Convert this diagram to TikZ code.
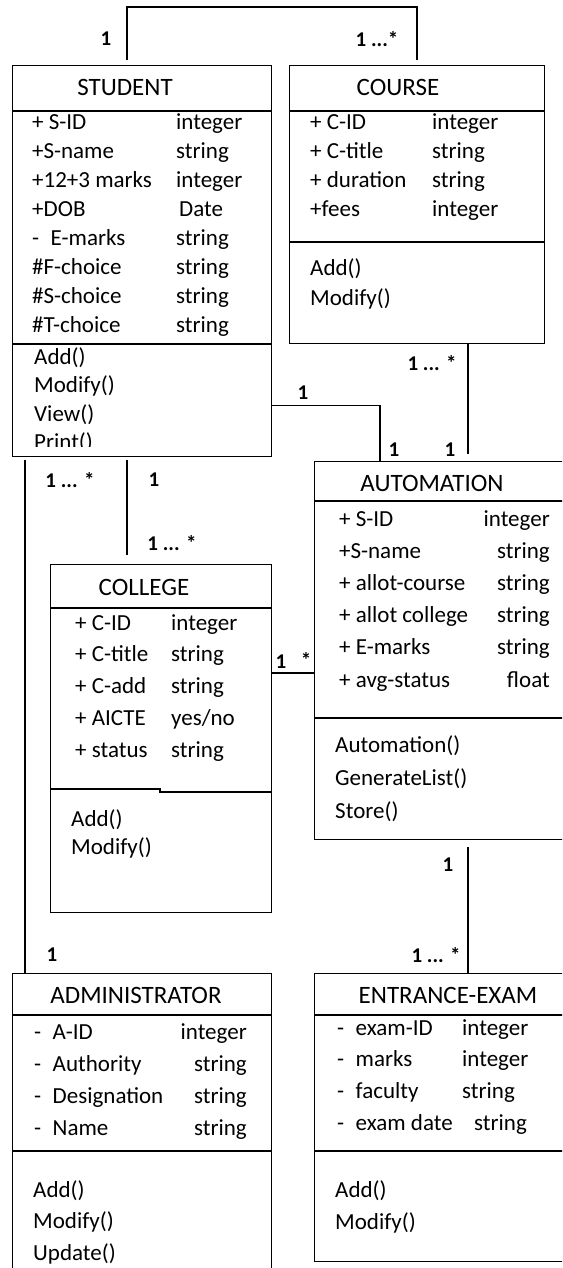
\documentclass[tikz,border=0pt]{standalone}
\usepackage{fontspec}
\setmainfont{Carlito}
\newcommand{\colL}[1]{\begin{tabular}[t]{@{}l@{}}#1\end{tabular}}
\newcommand{\colR}[1]{\begin{tabular}[t]{@{}r@{}}#1\end{tabular}}
\tikzset{
  classbox/.style = {draw, rectangle, line width=1.2pt, anchor=north west, inner sep=0pt},
  classname/.style = {anchor=base, inner sep=0pt, font=\fontsize{25}{30}\selectfont},
  member/.style = {anchor=base west, inner sep=0pt, font=\fontsize{23}{#1}\selectfont},% one compartment
  memberr/.style = {member=#1, anchor=base east},% right aligned types
  mult/.style = {inner sep=0pt, font=\bfseries\fontsize{21}{25}\selectfont},
  assoc/.style = {line width=1.2pt}
}

\begin{document}
\begin{tikzpicture}[x=1pt,y=-1pt]
  \useasboundingbox (0,0) rectangle (562,1268);
  \clip (0,0) rectangle (562,1268);

  % STUDENT
  \node [classbox, minimum width=259pt, minimum height=391pt] (student) at (12,65) {};
  \draw [assoc] (12,111) -- (271,111);
  \draw [assoc] (12,344) -- (271,344);
  \node [classname] (student-name) at (125,96) {STUDENT};
  \node [member=29] (student-attr) at (32,130)
    {\colL{+ S-ID\\+S-name\\+12+3 marks\\+DOB\\-\enskip E-marks\\\#F-choice\\\#S-choice\\\#T-choice}};
  \node [member=29] (student-type) at (176,130)
    {\colL{integer\\string\\integer\\\hspace{3pt}Date\\string\\string\\string\\string}};
  \begin{scope}
    \clip (12,344) rectangle (271,446);% last line is cut off
    \node [member=28.5] (student-op) at (34,364) {\colL{Add()\\Modify()\\View()\\Print()}};
  \end{scope}

  % COURSE
  \node [classbox, minimum width=255pt, minimum height=278pt] (course) at (289,65) {};
  \draw [assoc] (289,111) -- (544,111);
  \draw [assoc] (289,242) -- (544,242);
  \node [classname] (course-name) at (398,96) {COURSE};
  \node [member=29] (course-attr) at (310,130) {\colL{+ C-ID\\+ C-title\\+ duration\\+fees}};
  \node [member=29] (course-type) at (432,130) {\colL{integer\\string\\string\\integer}};
  \node [member=30] (course-op) at (310,275) {\colL{Add()\\Modify()}};

  % AUTOMATION
  \node [classbox, minimum width=260pt, minimum height=378pt] (autom) at (314,461) {};
  \draw [assoc] (314,501) -- (574,501);
  \draw [assoc] (314,718) -- (574,718);
  \node [classname] (autom-name) at (432,491) {AUTOMATION};
  \node [member=32.2] (autom-attr) at (339,526)
    {\colL{+ S-ID\\+S-name\\+ allot-course\\+ allot college\\+ E-marks\\+ avg-status}};
  \node [memberr=32.2] (autom-type) at (550,526) {\colR{integer\\string\\string\\string\\string\\float}};
  \node [member=33] (autom-op) at (335,752) {\colL{Automation()\\GenerateList()\\Store()}};

  % COLLEGE
  \node [classbox, minimum width=221pt, minimum height=348pt] (college) at (50,564) {};
  \draw [assoc] (50,608) -- (271,608);
  \draw [assoc] (50,789) -- (160,789) -- (160,792) -- (271,792);
  \node [classname] (college-name) at (144,595) {COLLEGE};
  \node [member=31.8] (college-attr) at (75,630) {\colL{+ C-ID\\+ C-title\\+ C-add\\+ AICTE\\+ status}};
  \node [member=31.8] (college-type) at (171,630) {\colL{integer\\string\\string\\yes/no\\string}};
  \node [member=28] (college-op) at (71,826) {\colL{Add()\\Modify()}};

  % ADMINISTRATOR
  \node [classbox, minimum width=259pt, minimum height=320pt] (admin) at (12,973) {};
  \draw [assoc] (12,1015) -- (271,1015);
  \draw [assoc] (12,1151) -- (271,1151);
  \node [classname] (admin-name) at (136,1003) {ADMINISTRATOR};
  \node [member=32] (admin-attr) at (34,1039)
    {\colL{-\enskip A-ID\\-\enskip Authority\\-\enskip Designation\\-\enskip Name}};
  \node [memberr=32] (admin-type) at (247,1039) {\colR{integer\\string\\string\\string}};
  \node [member=31.5] (admin-op) at (33,1197) {\colL{Add()\\Modify()\\Update()}};

  % ENTRANCE-EXAM
  \node [classbox, minimum width=260pt, minimum height=288pt] (exam) at (314,973) {};
  \draw [assoc] (314,1015) -- (574,1015);
  \draw [assoc] (314,1151) -- (574,1151);
  \node [classname] (exam-name) at (448,1003) {ENTRANCE-EXAM};
  \node [member=31.7] (exam-attr) at (337,1035)
    {\colL{-\enskip exam-ID\\-\enskip marks\\-\enskip faculty\\-\enskip exam date}};
  \node [member=31.7] (exam-type) at (462,1035) {\colL{integer\\integer\\string\\\hspace{12pt}string}};
  \node [member=32] (exam-op) at (335,1197) {\colL{Add()\\Modify()}};

  % associations
  \draw [assoc] ([xshift=115pt,yshift=5pt]student.north west) -- ++(0,-53)
    -| ([xshift=128pt,yshift=5pt]course.north west);
  \node [mult] (sc-s) at (106,39) {1};
  \node [mult] (sc-c) at (377,39) {1 ...*};

  \draw [assoc] ([yshift=52pt]student.south east) -| ([xshift=66pt]autom.north west);
  \node [mult] (sa-s) at (303,393) {1};
  \node [mult] (sa-a) at (394,450) {1};

  \draw [assoc] ([xshift=179pt]course.south west) -- ([xshift=154pt,yshift=7pt]autom.north west);
  \node [mult] (ca-c) at (432,363) {1 ... *};
  \node [mult] (ca-a) at (450,450) {1};

  \draw [assoc] ([xshift=115pt,yshift=-3pt]student.south west) -- ([xshift=77pt,yshift=9pt]college.north west);
  \node [mult] (sl-s) at (154,480) {1};
  \node [mult] (sl-l) at (172,543) {1 ... *};

  \draw [assoc] ([xshift=13pt,yshift=-3pt]student.south west) -- ([xshift=13pt]admin.north west);
  \node [mult] (sd-s) at (70,480) {1 ... *};
  \node [mult] (sd-d) at (52,955) {1};

  \draw [assoc] ([yshift=-109pt]college.north east) -- ([yshift=-109pt]college.north east -| autom.west);
  \node [mult] (la-l) at (281,662) {1};
  \node [mult] (la-a) at (306,660) {*};

  \draw [assoc] ([xshift=154pt,yshift=-7pt]autom.south west) -- ([xshift=154pt]exam.north west);
  \node [mult] (ae-a) at (448,865) {1};
  \node [mult] (ae-e) at (436,955) {1 ... *};
\end{tikzpicture}
\end{document}
